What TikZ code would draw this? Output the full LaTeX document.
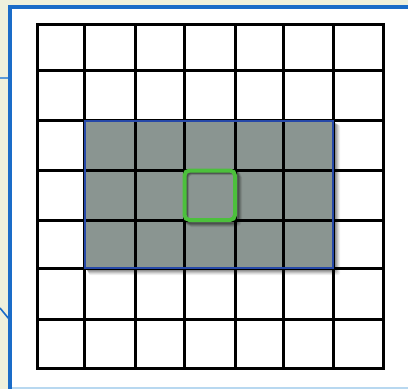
\documentclass[tikz,border=0pt]{standalone}
\usetikzlibrary{calc}
\definecolor{bgbeige}{HTML}{EEF0DC}
\definecolor{framblue}{HTML}{1A6CC8}
\definecolor{liteblue}{HTML}{5A9AD8}
\definecolor{paleblue}{HTML}{B8D8F0}
\definecolor{selgray}{HTML}{8A9591}
\definecolor{selblue}{HTML}{2648A8}
\definecolor{selgreen}{HTML}{4CC03C}
\tikzset{
  gridline/.style={line width=3pt, black},
  selbox/.style={draw=selblue, line width=2pt, fill=selgray},
  focusbox/.style={draw=selgreen, line width=4pt, rounded corners=5pt},
}
\begin{document}
\begin{tikzpicture}[x=1pt,y=-1pt]
\useasboundingbox (0,0) rectangle (408,389);
% background
\fill[bgbeige] (0,0) rectangle (408,389);
\fill[white] (10,6.5) rectangle (408,389);
% callout lines at left
\draw[liteblue, line width=2pt] (0,77.5) -- (10,77.5);
\draw[framblue, line width=1.6pt] (0,308) -- (9,319);
% frame
\draw[paleblue, line width=2pt] (10,388) -- (408,388);
\draw[framblue, line width=4pt] (10,389) -- (10,6.5) -- (408,6.5);
% selection shadow
\foreach \o/\a in {7/0.06,6/0.08,5/0.1,4/0.12,3/0.14,2/0.16}{
  \fill[black, opacity=\a, rounded corners=2pt] (84.5+\o*0.6,120.5+\o*0.6) rectangle (333+\o,268+\o);
}
\fill[selgray] (84.5,120.5) rectangle (333,268);
% grid
\foreach \x in {37.5,84.5,135,184.5,235,283.5,333,383}{
  \draw[gridline] (\x,24) -- (\x,368.5);
}
\foreach \y in {24,70,120.5,170.5,220,268,319,368.5}{
  \draw[gridline] (37.5,\y) -- (383,\y);
}
\draw[gridline, line cap=rect] (37.5,24) rectangle (383,368.5);
% selection border
\draw[selblue, line width=2pt] (84.5,120.5) rectangle (333,268);
% focus shadow
\foreach \o/\a in {5/0.08,4/0.12,3/0.16,2/0.2}{
  \draw[black, opacity=\a, line width=4pt, rounded corners=5pt] (184.5+\o*0.5,170.5+\o*0.5) rectangle (235+\o,220+\o);
}
\draw[focusbox] (184.5,170.5) rectangle (235,220);
\end{tikzpicture}
\end{document}
